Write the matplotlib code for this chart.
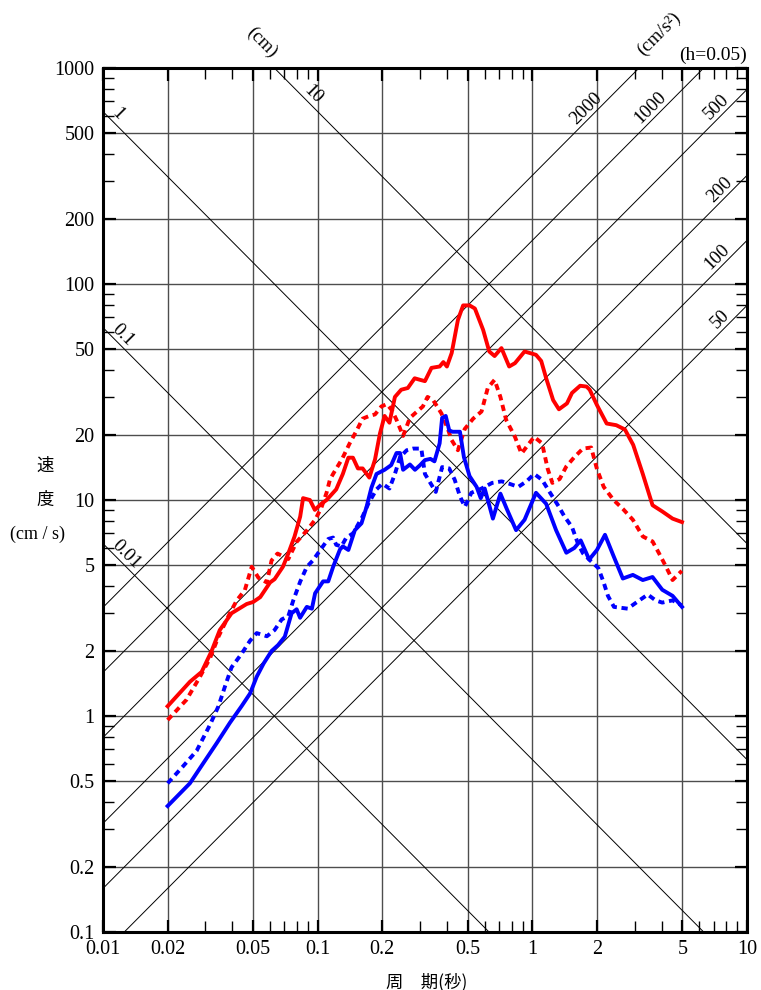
import numpy as np
import matplotlib
matplotlib.use("Agg")
import matplotlib.pyplot as plt

# response spectra, period (s) vs velocity (cm/s), h=0.05
rs_T = [0.02, 0.0254, 0.0288, 0.032, 0.035, 0.0397, 0.0467, 0.050, 0.054, 0.060, 0.063,
        0.0689, 0.073, 0.078, 0.0829, 0.0855, 0.092, 0.097, 0.104, 0.110, 0.122, 0.131,
        0.139, 0.146, 0.154, 0.162, 0.174, 0.185, 0.195, 0.205, 0.216, 0.229, 0.245,
        0.263, 0.283, 0.30, 0.316, 0.339, 0.37, 0.385, 0.40, 0.421, 0.45, 0.476, 0.51,
        0.54, 0.59, 0.63, 0.667, 0.718, 0.78, 0.83, 0.92, 1.04, 1.10, 1.16, 1.25, 1.33,
        1.45, 1.53, 1.67, 1.79, 1.85, 2.0, 2.22, 2.46, 2.7, 2.95, 3.27, 3.63, 4.03, 4.5, 4.98]
rs_V = [1.11, 1.44, 1.60, 1.99, 2.50, 2.99, 3.30, 3.37, 3.55, 4.15, 4.3,
        4.91, 5.66, 6.77, 8.38, 10.2, 10.0, 9.0, 9.6, 10.0, 11.2, 13.2,
        15.7, 15.7, 14.0, 14.0, 12.7, 15.4, 20.3, 24.5, 22.8, 30.0, 32.4,
        33.0, 36.6, 36.0, 35.5, 40.9, 41.5, 43.5, 41.5, 47.9, 68.1, 79.6, 79.6,
        77.0, 61.3, 48.7, 46.4, 50.5, 41.5, 43.0, 48.7, 47.0, 44.0, 36.6, 29.0, 26.3,
        28.0, 31.3, 33.8, 33.5, 32.4, 27.5, 22.6, 22.2, 21.2, 18.0, 13.2, 9.46, 8.85, 8.2, 7.9]

rd_T = [0.02, 0.0245, 0.0283, 0.0315, 0.0345, 0.039, 0.042, 0.0458, 0.0493, 0.053, 0.058,
        0.061, 0.065, 0.073, 0.0798, 0.0888, 0.0973, 0.104, 0.11, 0.114, 0.118, 0.13,
        0.141, 0.152, 0.162, 0.174, 0.185, 0.198, 0.21, 0.222, 0.233, 0.25, 0.269, 0.288,
        0.309, 0.325, 0.345, 0.377, 0.405, 0.42, 0.45, 0.484, 0.53, 0.58, 0.62, 0.667,
        0.71, 0.755, 0.83, 0.89, 0.955, 1.02, 1.11, 1.18, 1.24, 1.34, 1.44, 1.57, 1.72,
        1.88, 2.0, 2.15, 2.39, 2.64, 2.94, 3.27, 3.63, 3.89, 4.2, 4.5, 4.97]
rd_V = [0.958, 1.19, 1.52, 1.85, 2.33, 2.99, 3.43, 3.83, 4.91, 4.36, 4.15,
        5.25, 5.65, 5.33, 6.4, 7.2, 8.1, 9.2, 10.8, 12.4, 13.2, 15.5,
        18.3, 21.0, 23.8, 24.5, 24.9, 27.1, 27.8, 26.0, 23.5, 19.8, 24.0, 25.5,
        27.1, 30.0, 29.0, 25.2, 21.2, 19.0, 17.0, 21.3, 23.8, 25.7, 33.0, 36.0,
        30.0, 23.5, 19.6, 16.4, 18.0, 19.6, 18.3, 13.9, 12.0, 12.5, 14.3, 15.8, 17.3,
        17.5, 13.9, 11.5, 10.0, 9.1, 8.1, 6.78, 6.43, 5.67, 4.9, 4.26, 4.7]

bs_T = [0.02, 0.0254, 0.0293, 0.0339, 0.039, 0.0442, 0.0484, 0.052, 0.056, 0.061, 0.0654,
        0.0703, 0.0756, 0.0798, 0.0828, 0.089, 0.094, 0.0973, 0.106, 0.112, 0.118, 0.127,
        0.131, 0.139, 0.149, 0.16, 0.169, 0.178, 0.188, 0.205, 0.22, 0.233, 0.242, 0.25,
        0.269, 0.284, 0.30, 0.316, 0.335, 0.35, 0.37, 0.38, 0.395, 0.41, 0.425, 0.46, 0.48,
        0.51, 0.55, 0.575, 0.60, 0.655, 0.71, 0.76, 0.84, 0.92, 1.04, 1.16, 1.29, 1.44,
        1.57, 1.68, 1.84, 2.0, 2.18, 2.39, 2.64, 2.94, 3.27, 3.63, 4.03, 4.5, 4.98]
bs_V = [0.383, 0.488, 0.604, 0.75, 0.93, 1.11, 1.27, 1.52, 1.75, 2.0, 2.13,
        2.33, 2.99, 3.12, 2.85, 3.2, 3.14, 3.7, 4.2, 4.2, 4.9, 5.9,
        6.1, 5.87, 7.25, 7.8, 9.3, 11.4, 13.2, 13.8, 14.5, 16.5, 16.5, 13.8,
        14.6, 13.8, 14.5, 15.3, 15.5, 15.1, 18.3, 24.0, 24.5, 21.0, 20.7, 20.7, 15.8,
        12.9, 11.5, 10.2, 11.3, 8.2, 10.7, 9.1, 7.25, 8.1, 10.8, 9.6, 7.25, 5.7,
        6.0, 6.5, 5.3, 5.87, 6.9, 5.5, 4.33, 4.5, 4.26, 4.4, 3.84, 3.6, 3.2]

bd_T = [0.02, 0.0236, 0.0273, 0.0315, 0.0345, 0.037, 0.0397, 0.0442, 0.0484, 0.052, 0.058,
        0.063, 0.068, 0.073, 0.077, 0.083, 0.089, 0.095, 0.102, 0.112, 0.118, 0.122, 0.129,
        0.136, 0.146, 0.152, 0.162, 0.172, 0.188, 0.20, 0.216, 0.229, 0.242, 0.26, 0.278,
        0.304, 0.316, 0.34, 0.355, 0.38, 0.41, 0.435, 0.46, 0.485, 0.52, 0.58, 0.65, 0.72,
        0.78, 0.86, 0.94, 1.02, 1.11, 1.21, 1.33, 1.41, 1.53, 1.63, 1.72, 1.86, 2.03, 2.15,
        2.25, 2.4, 2.78, 3.15, 3.45, 3.75, 4.03, 4.5, 4.97]
bd_V = [0.488, 0.585, 0.69, 0.91, 1.11, 1.37, 1.68, 1.94, 2.23, 2.42, 2.34,
        2.5, 2.8, 2.9, 3.43, 4.2, 4.9, 5.25, 5.8, 6.6, 6.7, 6.2, 6.1,
        6.7, 7.0, 7.5, 8.4, 9.6, 11.2, 11.9, 11.3, 13.2, 15.8, 17.0, 17.3,
        17.3, 13.2, 11.7, 10.9, 14.2, 14.0, 12.4, 10.4, 9.3, 10.8, 11.3, 12.0, 12.2,
        11.9, 11.5, 12.2, 13.2, 12.4, 10.8, 9.3, 8.4, 7.5, 6.3, 5.67, 5.25, 4.84, 4.15,
        3.6, 3.2, 3.14, 3.43, 3.65, 3.43, 3.35, 3.43, 3.25]

# tripartite guide lines
disp_levels = [0.01, 0.1, 1, 10]          # cm
acc_levels = [50, 100, 200, 500, 1000, 2000]   # cm/s^2

x_major = [0.01, 0.02, 0.05, 0.1, 0.2, 0.5, 1, 2, 5, 10]
x_labels = ["0.01", "0.02", "0.05", "0.1", "0.2", "0.5", "1", "2", "5", "10"]
y_major = [0.1, 0.2, 0.5, 1, 2, 5, 10, 20, 50, 100, 200, 500, 1000]
y_labels = ["0.1", "0.2", "0.5", "1", "2", "5", "10", "20", "50", "100", "200", "500", "1000"]

W, H = 761, 990
serif = "Liberation Serif"
cjk = ["Noto Sans CJK JP", "DejaVu Sans"]

fig = plt.figure(figsize=(W / 100, H / 100), dpi=100)
ax = fig.add_axes([103 / W, 58 / H, 644 / W, 864 / H])
ax.set_xscale("log")
ax.set_yscale("log")
ax.set_xlim(0.01, 10)
ax.set_ylim(0.1, 1000)


def px(x, y):
    return x / W, 1 - y / H


# grid at 1-2-5
for v in x_major[1:-1]:
    ax.axvline(v, color="0.3", lw=1.0, zorder=1)
for v in y_major[1:-1]:
    ax.axhline(v, color="0.3", lw=1.0, zorder=1)

T = np.logspace(-2, 1, 200)
for d in disp_levels:
    ax.plot(T, 2 * np.pi * d / T, color="black", lw=0.7, zorder=2)
for a in acc_levels:
    ax.plot(T, a * T / (2 * np.pi), color="black", lw=0.7, zorder=2)

# labels of the guide lines, placed just above each line
disp_lab_T = {10: 0.095, 1: 0.0117, 0.1: 0.0124, 0.01: 0.0128}
disp_txt = {10: "10", 1: "1", 0.1: "0.1", 0.01: "0.01"}
for d in disp_levels:
    t = disp_lab_T[d]
    ax.annotate(disp_txt[d], xy=(t, 2 * np.pi * d / t), xytext=(0, 9),
                textcoords="offset points", rotation=-45, ha="center", va="center",
                fontsize=13.5, family=serif, zorder=5)
acc_lab_T = {2000: 1.78, 1000: 3.57, 500: 7.24, 200: 7.48, 100: 7.3, 50: 7.48}
for a in acc_levels:
    t = acc_lab_T[a]
    ax.annotate(str(a), xy=(t, a * t / (2 * np.pi)), xytext=(0, 9.5),
                textcoords="offset points", rotation=45, ha="center", va="center",
                fontsize=13.5, family=serif, zorder=5)

lw = 2.8
ax.plot(rs_T, rs_V, color="#ff0000", lw=lw, zorder=4, solid_joinstyle="round")
ax.plot(rd_T, rd_V, color="#ff0000", lw=lw, zorder=4, dashes=(1.6, 1.2))
ax.plot(bs_T, bs_V, color="#0000ff", lw=lw, zorder=4, solid_joinstyle="round")
ax.plot(bd_T, bd_V, color="#0000ff", lw=lw, zorder=4, dashes=(1.6, 1.2))

minor_x = [m * 10.0 ** e for e in (-2, -1, 0) for m in (3, 4, 6, 7, 8, 9)]
minor_y = [m * 10.0 ** e for e in (-1, 0, 1, 2) for m in (3, 4, 6, 7, 8, 9)]
ax.set_xticks(x_major, x_labels)
ax.set_yticks(y_major, y_labels)
ax.set_xticks(minor_x, minor=True)
ax.set_yticks(minor_y, minor=True)
ax.xaxis.set_minor_formatter(matplotlib.ticker.NullFormatter())
ax.yaxis.set_minor_formatter(matplotlib.ticker.NullFormatter())
ax.tick_params(which="both", direction="in", top=True, right=True, color="black")
ax.tick_params(which="major", length=9, width=1.6, labelsize=14.5, pad=6)
ax.tick_params(which="minor", length=8, width=1.0)
for lab in ax.get_xticklabels() + ax.get_yticklabels():
    lab.set_family(serif)
for s in ax.spines.values():
    s.set_linewidth(2.2)
    s.set_zorder(6)

fig.text(*px(45, 466), "速", ha="center", va="center", fontsize=12.5, family=cjk)
fig.text(*px(45, 500), "度", ha="center", va="center", fontsize=12.5, family=cjk)
fig.text(*px(37, 534), "(cm / s)", ha="center", va="center", fontsize=13, family=serif)
fig.text(*px(427, 982), "周　期(秒)", ha="center", va="center", fontsize=12.5, family=cjk)
fig.text(*px(262, 42), "(cm)", ha="center", va="center", rotation=-45, fontsize=13.5, family=serif)
fig.text(*px(659, 34), "(cm/s²)", ha="center", va="center", rotation=45, fontsize=13.5, family=serif)
fig.text(*px(713, 55), "(h=0.05)", ha="center", va="center", fontsize=14, family=serif)

fig.savefig("out.png", dpi=100)
